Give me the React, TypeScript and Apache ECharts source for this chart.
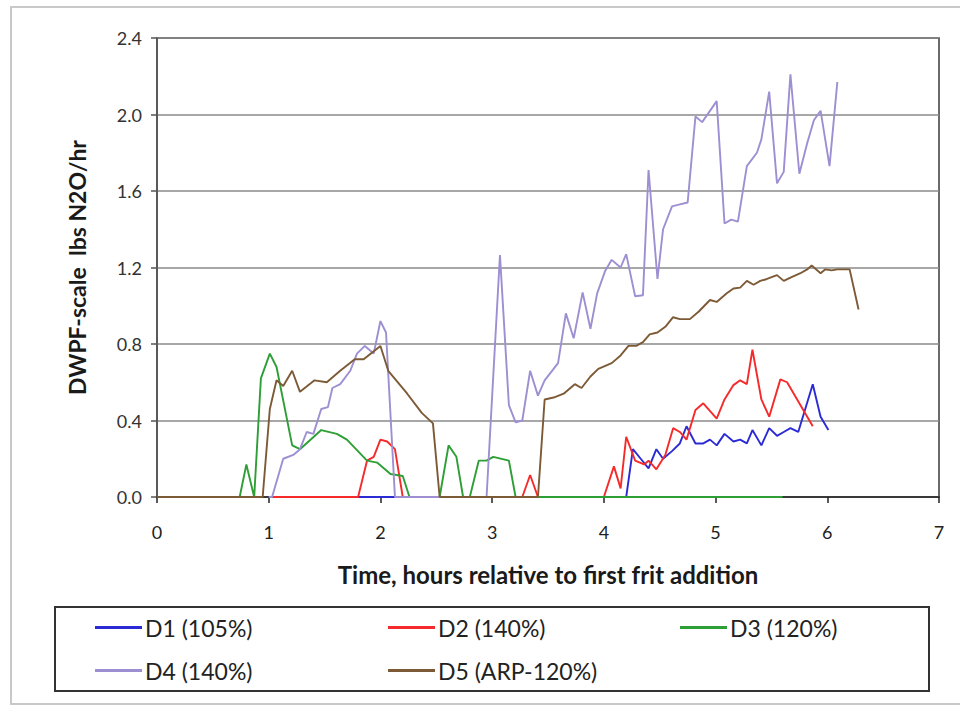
import React, { useEffect, useRef } from "react";
import * as echarts from "echarts";

const seriesNames = ["D1 (105%)", "D2 (140%)", "D3 (120%)", "D4 (140%)", "D5 (ARP-120%)"];
const seriesColors = ["#2b2bd6", "#f52a2a", "#2e9e36", "#9d8fd2", "#7d5a36"];

const xTicks = [0, 1, 2, 3, 4, 5, 6, 7];
const yTicks = [0, 0.4, 0.8, 1.2, 1.6, 2.0, 2.4];

const d1: (number | null)[][] = [
  [1.8, 0], [2.13, 0], [2.14, null],
  [4.2, 0], [4.26, 0.25], [4.33, 0.2], [4.4, 0.15], [4.47, 0.25], [4.53, 0.2], [4.61, 0.24],
  [4.68, 0.28], [4.74, 0.37], [4.82, 0.28], [4.89, 0.28], [4.95, 0.3], [5.01, 0.27], [5.08, 0.33],
  [5.16, 0.29], [5.22, 0.3], [5.28, 0.28], [5.33, 0.35], [5.41, 0.27], [5.48, 0.36], [5.55, 0.32],
  [5.61, 0.34], [5.67, 0.36], [5.74, 0.34], [5.8, 0.455], [5.87, 0.59], [5.94, 0.42], [6.01, 0.35],
];

const d2: (number | null)[][] = [
  [1.03, 0], [1.8, 0], [1.88, 0.19], [1.94, 0.21], [2.0, 0.3], [2.06, 0.29], [2.13, 0.25], [2.2, 0],
  [2.21, null],
  [3.27, 0], [3.34, 0.115], [3.41, 0], [3.42, null],
  [4.0, 0], [4.09, 0.16], [4.15, 0.045], [4.2, 0.315], [4.28, 0.19], [4.36, 0.17], [4.4, 0.19],
  [4.47, 0.145], [4.55, 0.22], [4.62, 0.36], [4.68, 0.34], [4.74, 0.3], [4.82, 0.455], [4.89, 0.49],
  [5.01, 0.41], [5.08, 0.51], [5.16, 0.585], [5.22, 0.61], [5.28, 0.59], [5.33, 0.77], [5.41, 0.51],
  [5.48, 0.42], [5.58, 0.615], [5.64, 0.6], [5.87, 0.37],
];

const d3: number[][] = [
  [0.7, 0], [0.74, 0], [0.8, 0.17], [0.87, 0], [0.93, 0.62], [1.01, 0.75], [1.07, 0.68], [1.21, 0.27],
  [1.28, 0.25], [1.47, 0.35], [1.61, 0.33], [1.7, 0.3], [1.88, 0.19], [1.97, 0.18], [2.09, 0.12],
  [2.2, 0.11], [2.26, 0], [2.53, 0], [2.61, 0.27], [2.68, 0.21], [2.74, 0], [2.8, 0], [2.88, 0.19],
  [2.95, 0.19], [3.01, 0.21], [3.15, 0.19], [3.21, 0], [5.6, 0],
];

const d4: number[][] = [
  [1.0, 0], [1.03, 0], [1.13, 0.2], [1.22, 0.22], [1.28, 0.25], [1.34, 0.34], [1.4, 0.33], [1.47, 0.46],
  [1.53, 0.47], [1.57, 0.57], [1.64, 0.59], [1.73, 0.66], [1.79, 0.75], [1.86, 0.79], [1.94, 0.75],
  [2.0, 0.92], [2.05, 0.86], [2.13, 0], [2.95, 0], [3.07, 1.265], [3.15, 0.48], [3.21, 0.39],
  [3.27, 0.4], [3.34, 0.66], [3.41, 0.53], [3.47, 0.61], [3.59, 0.7], [3.66, 0.96], [3.73, 0.83],
  [3.81, 1.07], [3.88, 0.88], [3.94, 1.065], [4.01, 1.18], [4.07, 1.24], [4.15, 1.2], [4.2, 1.27],
  [4.28, 1.05], [4.35, 1.055], [4.4, 1.71], [4.48, 1.14], [4.53, 1.4], [4.61, 1.52], [4.68, 1.53],
  [4.75, 1.54], [4.82, 1.99], [4.88, 1.96], [5.01, 2.07], [5.08, 1.43], [5.14, 1.45], [5.2, 1.44],
  [5.28, 1.73], [5.37, 1.8], [5.41, 1.87], [5.48, 2.12], [5.55, 1.64], [5.61, 1.7], [5.67, 2.21],
  [5.75, 1.69], [5.82, 1.85], [5.88, 1.97], [5.94, 2.02], [6.02, 1.73], [6.09, 2.17],
];

const d5: number[][] = [
  [0, 0], [0.946, 0], [1.01, 0.46], [1.07, 0.61], [1.13, 0.58], [1.21, 0.66], [1.28, 0.55],
  [1.41, 0.61], [1.52, 0.6], [1.64, 0.66], [1.77, 0.72], [1.85, 0.72], [2.0, 0.79], [2.07, 0.66],
  [2.24, 0.54], [2.37, 0.44], [2.47, 0.385], [2.53, 0], [3.41, 0], [3.47, 0.51], [3.55, 0.52],
  [3.64, 0.54], [3.74, 0.59], [3.8, 0.57], [3.88, 0.63], [3.95, 0.67], [4.07, 0.7], [4.15, 0.74],
  [4.22, 0.79], [4.29, 0.79], [4.35, 0.81], [4.41, 0.85], [4.48, 0.86], [4.55, 0.89], [4.62, 0.94],
  [4.68, 0.93], [4.77, 0.93], [4.85, 0.97], [4.95, 1.03], [5.01, 1.02], [5.1, 1.065], [5.16, 1.09],
  [5.22, 1.095], [5.28, 1.13], [5.34, 1.11], [5.4, 1.13], [5.46, 1.14], [5.55, 1.16], [5.61, 1.13],
  [5.68, 1.15], [5.76, 1.17], [5.82, 1.19], [5.86, 1.21], [5.94, 1.17], [5.98, 1.19], [6.04, 1.185],
  [6.09, 1.19], [6.2, 1.19], [6.28, 0.98],
];

const allData = [d1, d2, d3, d4, d5];

const FONT = "Lato, 'Open Sans', sans-serif";

const legendPos = [
  { left: 95, top: 616 },
  { left: 388, top: 616 },
  { left: 680, top: 616 },
  { left: 95, top: 659 },
  { left: 388, top: 659 },
];

export default function App() {
  const ref = useRef<HTMLDivElement>(null);
  useEffect(() => {
    if (!ref.current) return;
    const chart = echarts.init(ref.current, undefined, { renderer: "svg" });
    chart.setOption({
      animation: false,
      backgroundColor: "#ffffff",
      grid: {
        left: 157,
        right: 21,
        top: 38,
        bottom: 210,
        show: true,
        borderColor: "#3a3a3a",
        borderWidth: 1.5,
      },
      xAxis: {
        type: "value",
        min: xTicks[0],
        max: xTicks[xTicks.length - 1],
        interval: 1,
        name: "Time, hours relative to first frit addition",
        nameLocation: "middle",
        nameGap: 65,
        nameTextStyle: { fontFamily: FONT, fontSize: 24, fontWeight: "bold", color: "#1a1a1a" },
        axisLine: { show: true, onZero: false, lineStyle: { color: "#222", width: 1.5 } },
        axisTick: { show: true, length: 6, lineStyle: { color: "#222", width: 1.5 } },
        axisLabel: { fontFamily: FONT, fontSize: 18, color: "#222", margin: 26 },
        splitLine: { show: false },
      },
      yAxis: {
        type: "value",
        min: yTicks[0],
        max: yTicks[yTicks.length - 1],
        interval: 0.4,
        name: "DWPF-scale  lbs N2O/hr",
        nameLocation: "middle",
        nameGap: 69,
        nameTextStyle: { fontFamily: FONT, fontSize: 23, fontWeight: "bold", color: "#1a1a1a" },
        axisLine: { show: true, lineStyle: { color: "#555", width: 1.5 } },
        axisTick: { show: true, length: 6, lineStyle: { color: "#555", width: 1.5 } },
        axisLabel: {
          fontFamily: FONT,
          fontSize: 18,
          color: "#333",
          margin: 15,
          formatter: (v: number) => v.toFixed(1),
        },
        splitLine: { show: true, lineStyle: { color: "#8a8a8a", width: 1.5 } },
      },
      legend: seriesNames.map((n, i) => ({
        data: [n],
        left: legendPos[i].left,
        top: legendPos[i].top,
        icon: "rect",
        itemWidth: 47,
        itemHeight: 3,
        itemGap: 0,
        padding: 0,
        selectedMode: false,
        textStyle: { fontFamily: FONT, fontSize: 23, color: "#222", padding: [0, 0, 0, -2] },
      })),
      graphic: [
        {
          type: "rect",
          shape: { x: 11, y: 7, width: 960, height: 697 },
          style: { fill: "none", stroke: "#c8c8c8", lineWidth: 2 },
          silent: true,
        },
        {
          type: "rect",
          shape: { x: 55, y: 607, width: 874, height: 84 },
          style: { fill: "none", stroke: "#333", lineWidth: 2 },
          silent: true,
        },
      ],
      series: allData.map((d, i) => ({
        name: seriesNames[i],
        type: "line",
        data: d,
        showSymbol: false,
        symbol: "none",
        connectNulls: false,
        lineStyle: { color: seriesColors[i], width: 1.9 },
        itemStyle: { color: seriesColors[i] },
      })),
    });
    return () => chart.dispose();
  }, []);
  return <div ref={ref} style={{ width: 960, height: 707, position: "absolute", left: 0, top: 0 }} />;
}
